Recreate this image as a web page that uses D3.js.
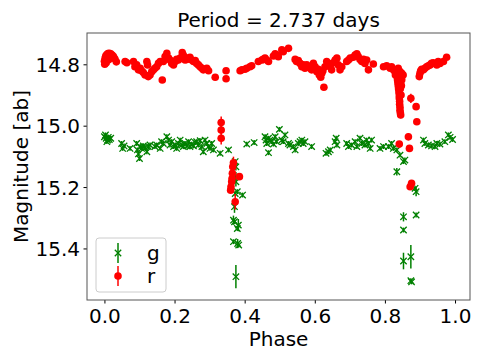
<!DOCTYPE html>
<html>
<head>
<meta charset="utf-8">
<script src="https://cdn.jsdelivr.net/npm/d3@7"></script>
<style>
  body { margin: 0; background: #fff; }
  svg { font-family: "DejaVu Sans", sans-serif; }
</style>
</head>
<body>
<svg id="chart"></svg>
<script>
// [phase, magnitude, error] -- error omitted means the usual small one
const gData = [
  [0.000,15.036],[0.003,15.030],[0.005,15.041],[0.009,15.047],[0.011,15.038],[0.014,15.045],[0.007,15.052],[0.018,15.041],
  [0.049,15.058],[0.052,15.074],[0.056,15.066],[0.073,15.074],[0.092,15.058],[0.094,15.079],[0.097,15.092],[0.100,15.107],
  [0.102,15.068],[0.106,15.074],[0.111,15.066],[0.116,15.071],[0.121,15.085],[0.125,15.068],[0.130,15.063],[0.144,15.068],
  [0.149,15.063],[0.159,15.074],[0.163,15.052],[0.168,15.058],[0.178,15.036],[0.183,15.047],[0.187,15.063],[0.192,15.052],
  [0.197,15.068],[0.202,15.063],[0.206,15.074],[0.211,15.058],[0.216,15.047],[0.221,15.063],[0.225,15.068],[0.230,15.058],
  [0.235,15.066],[0.240,15.052],[0.244,15.068],[0.249,15.060],[0.254,15.066],[0.259,15.055],[0.263,15.052],[0.268,15.063],
  [0.273,15.049],[0.278,15.068],[0.282,15.085],[0.287,15.047],[0.292,15.058],[0.297,15.068],[0.301,15.074],[0.306,15.058],
  [0.311,15.079],[0.330,15.090],[0.354,15.079],
  [0.375,15.134,0.012],[0.373,15.117],[0.375,15.166,0.015],[0.375,15.183,0.015],[0.379,15.215],[0.373,15.221],[0.394,15.226],
  [0.371,15.264,0.02],[0.368,15.308,0.015],[0.371,15.313],[0.382,15.324,0.02],[0.379,15.335],[0.368,15.378],
  [0.380,15.384,0.015],[0.383,15.389],[0.375,15.492,0.038],
  [0.406,15.060],[0.427,15.055],[0.458,15.036],[0.461,15.047],[0.463,15.058],[0.468,15.041],[0.472,15.047],[0.468,15.088],
  [0.477,15.052],[0.482,15.060],[0.487,15.036],[0.491,15.052],[0.499,15.012],[0.506,15.047],[0.510,15.052],[0.515,15.030],
  [0.525,15.058],[0.529,15.063],[0.539,15.068],[0.544,15.079],[0.553,15.058],[0.558,15.052],[0.563,15.047],[0.567,15.058],
  [0.572,15.052],[0.591,15.068],[0.632,15.090],[0.639,15.085],[0.644,15.079],[0.658,15.052],[0.661,15.041],[0.663,15.063],
  [0.691,15.058],[0.696,15.068],[0.705,15.063],[0.715,15.052],[0.720,15.068],[0.729,15.041],[0.734,15.058],[0.743,15.063],
  [0.748,15.047],[0.753,15.058],[0.758,15.074],[0.762,15.047],[0.786,15.074],[0.796,15.068],[0.810,15.068],[0.819,15.058],
  [0.824,15.074],[0.834,15.079],[0.843,15.096],[0.853,15.117],[0.857,15.112],[0.834,15.150,0.012],
  [0.889,15.215,0.015],[0.886,15.204],[0.853,15.297,0.015],[0.889,15.291],[0.853,15.340],[0.874,15.427,0.038],
  [0.853,15.441,0.027],[0.876,15.509],[0.874,15.505],
  [0.910,15.047],[0.914,15.058],[0.924,15.063],[0.933,15.066],[0.943,15.068],[0.948,15.058],[0.957,15.060],[0.971,15.052],
  [0.981,15.030],[0.986,15.038],[0.993,15.045]
];

const rData = [
  [0.000,14.790],[0.002,14.780],[0.004,14.772],[0.007,14.768],[0.010,14.765],[0.014,14.764],[0.018,14.766],[0.022,14.770],
  [0.026,14.775],[0.030,14.783],[0.034,14.792],[0.001,14.800],[0.005,14.795],[0.012,14.785],[0.003,14.785],
  [0.059,14.791],[0.064,14.795],[0.083,14.791],[0.087,14.808],[0.092,14.802],[0.097,14.818],[0.102,14.813],[0.106,14.821],
  [0.111,14.827],[0.116,14.835],[0.121,14.791],[0.123,14.802],[0.125,14.840],[0.130,14.835],[0.135,14.824],[0.140,14.818],
  [0.144,14.813],[0.149,14.808],[0.154,14.797],[0.159,14.791],[0.165,14.851],[0.168,14.791],[0.173,14.775],[0.178,14.764],
  [0.183,14.780],[0.187,14.786],[0.192,14.797],[0.197,14.802],[0.202,14.791],[0.206,14.784],[0.211,14.786],[0.216,14.780],
  [0.222,14.762],[0.225,14.770],[0.230,14.786],[0.235,14.784],[0.240,14.780],[0.244,14.777],[0.249,14.786],[0.254,14.791],
  [0.259,14.788],[0.263,14.797],[0.268,14.802],[0.273,14.808],[0.278,14.813],[0.282,14.818],[0.287,14.816],[0.292,14.813],
  [0.297,14.821],[0.316,14.842],[0.347,14.821],[0.347,14.847],
  [0.333,14.990,0.02],[0.333,15.014,0.015],[0.333,15.041,0.02],
  [0.368,15.121,0.02],[0.366,15.134],[0.365,15.155],[0.364,15.172],[0.363,15.183],[0.361,15.199],[0.360,15.210],
  [0.373,15.248,0.025],[0.385,15.166],
  [0.387,14.821],[0.392,14.818],[0.401,14.816],[0.406,14.813],[0.415,14.808],[0.420,14.805],[0.439,14.791],[0.449,14.786],
  [0.453,14.784],[0.458,14.780],[0.463,14.786],[0.468,14.791],[0.482,14.773],[0.487,14.766],[0.491,14.770],[0.496,14.775],
  [0.506,14.753],[0.510,14.759],[0.525,14.748],[0.544,14.784],[0.548,14.791],[0.553,14.788],[0.558,14.797],[0.563,14.808],
  [0.567,14.802],[0.572,14.813],[0.577,14.802],[0.582,14.808],[0.587,14.813],[0.591,14.818],[0.596,14.797],[0.601,14.808],
  [0.606,14.824],[0.610,14.816],[0.613,14.835],[0.617,14.842],[0.620,14.829],[0.623,14.821],[0.626,14.875],[0.629,14.808],
  [0.634,14.791],[0.639,14.797],[0.644,14.808],[0.648,14.818],[0.653,14.795],[0.658,14.786],[0.663,14.780],[0.667,14.802],
  [0.672,14.818],[0.677,14.808],[0.691,14.791],[0.696,14.786],[0.701,14.780],[0.710,14.777],[0.715,14.770],[0.720,14.766],
  [0.724,14.775],[0.729,14.784],[0.734,14.791],[0.739,14.784],[0.743,14.797],[0.748,14.786],[0.753,14.818],[0.767,14.799],
  [0.796,14.808],[0.805,14.805],[0.815,14.813],[0.819,14.808],[0.824,14.818],[0.829,14.824],[0.834,14.821],[0.838,14.813],
  [0.843,14.824],[0.848,14.829],[0.852,14.835],
  [0.830,14.835],[0.833,14.830],[0.835,14.840],[0.836,14.850],[0.837,14.860],[0.838,14.870],[0.839,14.880],[0.840,14.890],
  [0.841,14.900],[0.841,14.910],[0.842,14.920],[0.842,14.930],[0.843,14.940],[0.843,14.950],[0.844,14.958],[0.845,14.965,0.011],
  [0.846,14.840],[0.848,14.850],[0.845,14.860],[0.847,14.870],[0.844,14.880],[0.846,14.900],
  [0.841,15.060],[0.867,15.036,0.012],[0.870,15.074],[0.874,14.911,0.015],[0.889,14.938],[0.891,14.987],
  [0.876,15.188],[0.872,15.199],
  [0.898,14.840],[0.900,14.829],[0.902,14.821],[0.905,14.816],[0.910,14.818],[0.914,14.813],[0.919,14.808],[0.924,14.805],
  [0.929,14.802],[0.933,14.797],[0.938,14.795],[0.948,14.802],[0.952,14.791],[0.957,14.797],[0.967,14.791],[0.976,14.777]
];

const xTicks = [0.0, 0.2, 0.4, 0.6, 0.8, 1.0];
const yTicks = [14.8, 15.0, 15.2, 15.4];
const gErr = 0.008, rErr = 0.005;

const width = 485, height = 363;
const margin = { top: 33, right: 15, bottom: 63, left: 87 };

const svg = d3.select("#chart").attr("width", width).attr("height", height);

const x = d3.scaleLinear().domain([-0.0497, 1.0427]).range([margin.left, width - margin.right]);
const y = d3.scaleLinear().domain([14.698, 15.568]).range([margin.top, height - margin.bottom]);

const green = "#008000", red = "#ff0000";
const s = 3.2;   // half size of the x marker
const rad = 3.8; // circle radius

// g series: error bars + x markers
const gG = svg.append("g");
gData.forEach(d => {
  const e = d[2] || gErr;
  gG.append("line")
    .attr("x1", x(d[0])).attr("x2", x(d[0]))
    .attr("y1", y(d[1] - e)).attr("y2", y(d[1] + e))
    .attr("stroke", green).attr("stroke-width", 1.5);
});
gData.forEach(d => {
  const cx = x(d[0]), cy = y(d[1]);
  gG.append("path")
    .attr("d", `M${cx - s},${cy - s}L${cx + s},${cy + s}M${cx - s},${cy + s}L${cx + s},${cy - s}`)
    .attr("stroke", green).attr("stroke-width", 1.3).attr("fill", "none");
});

// r series: error bars + circles
const rG = svg.append("g");
rData.forEach(d => {
  const e = d[2] || rErr;
  rG.append("line")
    .attr("x1", x(d[0])).attr("x2", x(d[0]))
    .attr("y1", y(d[1] - e)).attr("y2", y(d[1] + e))
    .attr("stroke", red).attr("stroke-width", 1.5);
});
rG.selectAll("circle").data(rData).enter().append("circle")
  .attr("cx", d => x(d[0])).attr("cy", d => y(d[1]))
  .attr("r", rad).attr("fill", red);

// axes
const xAxis = svg.append("g")
  .attr("transform", `translate(0,${height - margin.bottom})`)
  .call(d3.axisBottom(x).tickValues(xTicks).tickFormat(d3.format(".1f")).tickSize(3.5).tickSizeOuter(0));
const yAxis = svg.append("g")
  .attr("transform", `translate(${margin.left},0)`)
  .call(d3.axisLeft(y).tickValues(yTicks).tickFormat(d3.format(".1f")).tickSize(3.5).tickSizeOuter(0));
[xAxis, yAxis].forEach(a => {
  a.select(".domain").remove();
  a.selectAll("text").attr("font-size", 20).attr("fill", "#000").attr("font-family", "DejaVu Sans");
  a.selectAll("line").attr("stroke", "#000");
});
xAxis.selectAll("text").attr("dy", null).attr("y", 22.5);
yAxis.selectAll("text").attr("x", -7).attr("dy", "0.36em");

// frame
svg.append("rect")
  .attr("x", margin.left).attr("y", margin.top)
  .attr("width", width - margin.left - margin.right)
  .attr("height", height - margin.top - margin.bottom)
  .attr("fill", "none").attr("stroke", "#555").attr("stroke-width", 1);

// titles
const cx = (margin.left + width - margin.right) / 2;
svg.append("text").attr("x", cx).attr("y", 26.5).attr("text-anchor", "middle")
  .attr("font-size", 20).text("Period = 2.737 days");
svg.append("text").attr("x", cx).attr("y", 345.5).attr("text-anchor", "middle")
  .attr("font-size", 20).text("Phase");
svg.append("text")
  .attr("transform", `translate(28,${(margin.top + height - margin.bottom) / 2}) rotate(-90)`)
  .attr("text-anchor", "middle").attr("font-size", 20).text("Magnitude [ab]");

// legend
const lg = svg.append("g").attr("transform", "translate(96,238)");
lg.append("rect").attr("width", 70).attr("height", 54).attr("rx", 3)
  .attr("fill", "#fff").attr("fill-opacity", 0.8).attr("stroke", "#ccc");
lg.append("line").attr("x1", 22).attr("x2", 22).attr("y1", 5).attr("y2", 25)
  .attr("stroke", green).attr("stroke-width", 1.5);
lg.append("path").attr("d", `M${22 - s},${15 - s}L${22 + s},${15 + s}M${22 - s},${15 + s}L${22 + s},${15 - s}`)
  .attr("stroke", green).attr("stroke-width", 1.3);
lg.append("line").attr("x1", 22).attr("x2", 22).attr("y1", 28).attr("y2", 48)
  .attr("stroke", red).attr("stroke-width", 1.5);
lg.append("circle").attr("cx", 22).attr("cy", 38).attr("r", rad).attr("fill", red);
lg.append("text").attr("x", 51).attr("y", 22).attr("font-size", 20).text("g");
lg.append("text").attr("x", 51).attr("y", 45).attr("font-size", 20).text("r");
</script>
</body>
</html>
